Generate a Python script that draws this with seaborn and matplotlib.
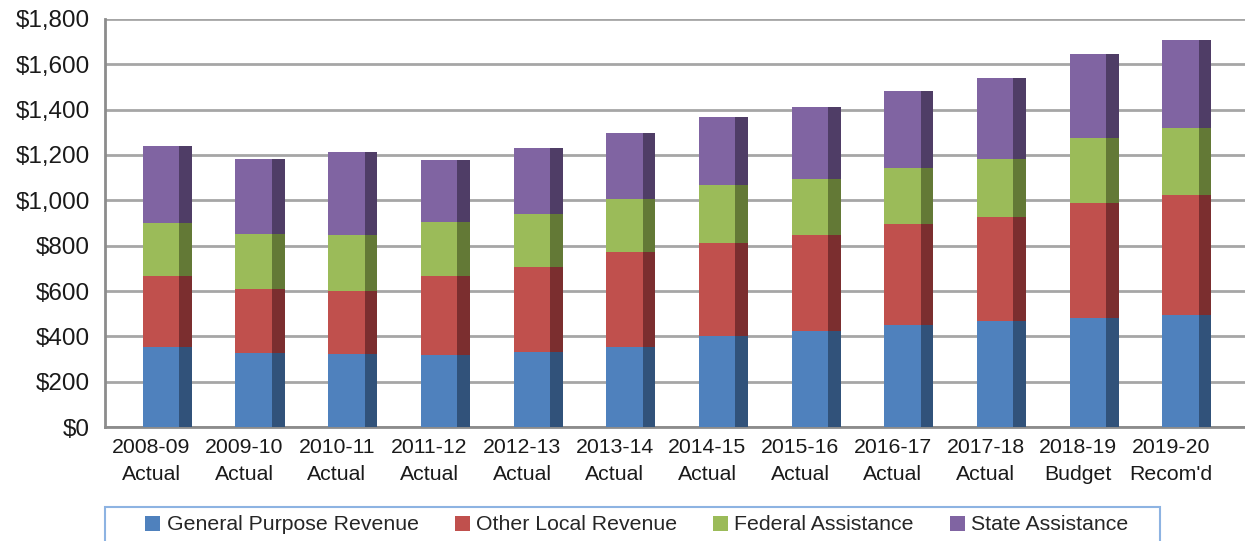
import numpy as np
import pandas as pd
import seaborn as sns
import matplotlib.pyplot as plt
from matplotlib.patches import Patch, Rectangle
from matplotlib.ticker import FuncFormatter, MultipleLocator

# values in $ millions
years = ["2008-09\nActual", "2009-10\nActual", "2010-11\nActual", "2011-12\nActual",
         "2012-13\nActual", "2013-14\nActual", "2014-15\nActual", "2015-16\nActual",
         "2016-17\nActual", "2017-18\nActual", "2018-19\nBudget", "2019-20\nRecom'd"]
general_purpose = [354, 325, 321, 318, 329, 351, 402, 423, 449, 469, 480, 495]
other_local = [312, 283, 281, 347, 377, 419, 411, 424, 448, 458, 510, 529]
federal = [234, 243, 243, 240, 235, 234, 255, 247, 247, 257, 284, 296]
state = [339, 332, 367, 275, 288, 295, 300, 316, 337, 356, 373, 387]

series = ["General Purpose Revenue", "Other Local Revenue", "Federal Assistance", "State Assistance"]
face_colors = ["#4F81BD", "#C0504D", "#9BBB59", "#8064A2"]
side_colors = ["#31527A", "#7B2E2F", "#637936", "#4F3D66"]

df = pd.DataFrame({series[0]: general_purpose, series[1]: other_local,
                   series[2]: federal, series[3]: state})
cum = df[series].cumsum(axis=1)

sns.set_theme(style="white")
plt.rcParams["font.family"] = ["Liberation Sans", "DejaVu Sans"]

fig = plt.figure(figsize=(12.45, 5.41), dpi=100)
ax = fig.add_axes([105 / 1245, 114 / 541, 1140 / 1245, 408 / 541])

idx = np.arange(len(years))
# front face and darker side face, to mimic the 3D look
front_off, front_w = 0.104, 0.392
side_off, side_w = 0.369, 0.137
for s, fc, sc in reversed(list(zip(series, face_colors, side_colors))):
    sns.barplot(x=idx + front_off, y=cum[s].values, native_scale=True, orient="x",
                width=front_w, color=fc, saturation=1, errorbar=None,
                linewidth=0, ax=ax, zorder=3)
    sns.barplot(x=idx + side_off, y=cum[s].values, native_scale=True, orient="x",
                width=side_w, color=sc, saturation=1, errorbar=None,
                linewidth=0, ax=ax, zorder=3)

ax.set_xlim(-0.5, 11.8)
ax.set_ylim(0, 1800)
ax.yaxis.set_major_locator(MultipleLocator(200))
ax.yaxis.set_major_formatter(FuncFormatter(lambda v, p: f"${v:,.0f}"))
ax.set_xticks(idx)
ax.set_xticklabels(years, fontsize=15.3, linespacing=1.5)
ax.set_xticks(np.arange(-0.5, 12, 1), minor=True)
ax.tick_params(axis="x", which="major", length=0, pad=8, colors="#1a1a1a")
ax.tick_params(axis="x", which="minor", length=6, width=1.5, color="#8c8c8c", direction="out")
ax.tick_params(axis="y", length=6, width=1.5, color="#8c8c8c", direction="out",
               labelsize=17.5, pad=5, labelcolor="#1a1a1a")
ax.set_xlabel("")
ax.set_ylabel("")

ax.set_axisbelow(True)
ax.grid(axis="y", color="#a6a6a6", linewidth=2)
ax.grid(axis="x", visible=False)
for side in ["top", "right"]:
    ax.spines[side].set_visible(False)
for side in ["left", "bottom"]:
    ax.spines[side].set_color("#8c8c8c")
    ax.spines[side].set_linewidth(2)

# legend with its own box
handles = [Patch(facecolor=c, edgecolor="none") for c in face_colors]
fig.legend(handles, series, loc="center", bbox_to_anchor=(637 / 1245, 16 / 541),
           ncol=4, frameon=False, fontsize=15.3, handlelength=0.7, handleheight=0.7,
           handletextpad=0.3, columnspacing=1.7)
fig.patches.append(Rectangle((105 / 1245, -0.05), 1055 / 1245, 0.05 + 34 / 541,
                             transform=fig.transFigure, facecolor="none",
                             edgecolor="#8DB3E2", linewidth=1.5))

fig.savefig("out.png", dpi=100)
